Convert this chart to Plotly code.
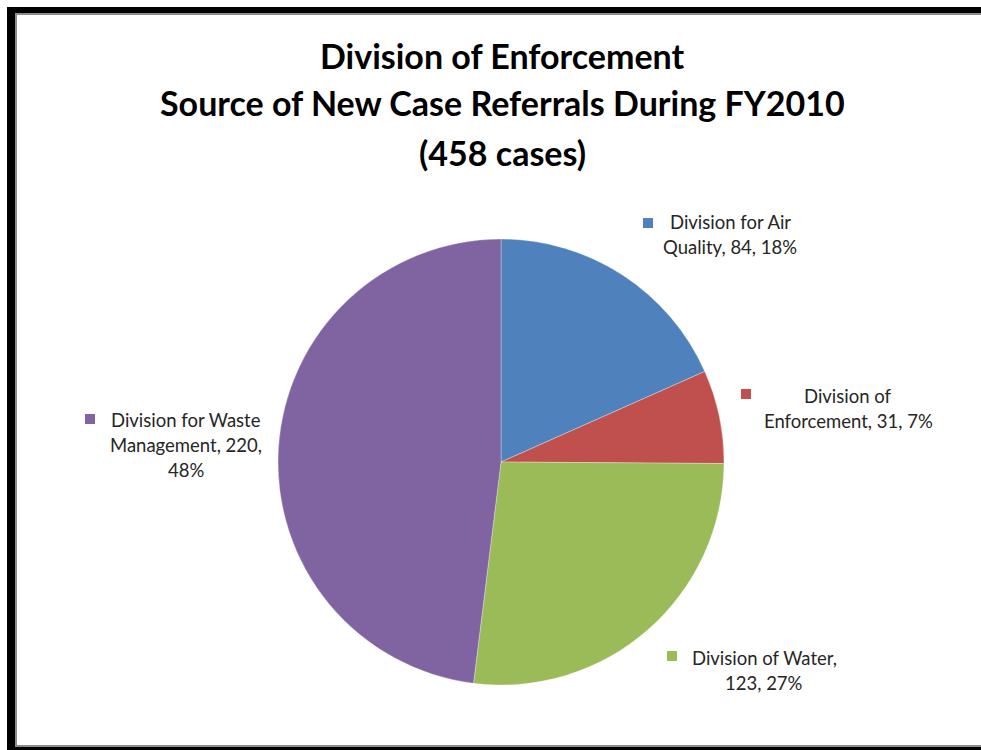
import textwrap
import plotly.graph_objects as go

# Referral sources for new enforcement cases, FY2010
sources = [
    "Division for Air Quality",
    "Division of Enforcement",
    "Division of Water",
    "Division for Waste Management",
]
cases = [84, 31, 123, 220]
colors = ["#4F81BD", "#C0504D", "#9BBB59", "#8064A2"]

title_lines = [
    "Division of Enforcement",
    "Source of New Case Referrals During FY2010",
    f"({sum(cases)} cases)",
]

W, H = 981, 750
FONT = "Lato, Carlito, Calibri, sans-serif"
TEXT = "#262626"


def px(x):
    return x / W


def py(y):
    return 1 - y / H


# pie centre and radius in pixels
cx, cy, r = 501, 462, 223

fig = go.Figure(
    go.Pie(
        labels=sources,
        values=cases,
        marker=dict(colors=colors, line=dict(color="rgba(255,255,255,0.5)", width=0.6)),
        sort=False,
        direction="clockwise",
        rotation=0,
        textinfo="none",
        hoverinfo="label+value+percent",
        showlegend=False,
        domain=dict(x=[px(cx - r), px(cx + r)], y=[py(cy + r), py(cy - r)]),
    )
)

annotations = []
shapes = []

# title, one annotation per line
for text, y in zip(title_lines, [55, 103, 152]):
    annotations.append(dict(
        text=f"<b>{text}</b>", x=px(502), y=py(y), xref="paper", yref="paper",
        xanchor="center", yanchor="middle", showarrow=False,
        font=dict(family=FONT, size=34, color="#000000"),
    ))

# data labels: wrap width, centre x, first line y, legend key centre
label_layout = [
    dict(wrap=17, x=730, y0=222, key=(648, 223)),
    dict(wrap=19, x=848, y0=396, key=(746, 394)),
    dict(wrap=18, x=764, y0=658, key=(672, 656)),
    dict(wrap=18, x=186, y0=420, key=(90, 419)),
]
total = sum(cases)
for name, val, col, lay in zip(sources, cases, colors, label_layout):
    pct = round(100 * val / total)
    lines = textwrap.wrap(f"{name}, {val}, {pct}%", lay["wrap"])
    for i, line in enumerate(lines):
        annotations.append(dict(
            text=line, x=px(lay["x"]), y=py(lay["y0"] + 25 * i),
            xref="paper", yref="paper", xanchor="center", yanchor="middle",
            showarrow=False, font=dict(family=FONT, size=18.5, color=TEXT),
        ))
    kx, ky = lay["key"]
    shapes.append(dict(
        type="rect", xref="paper", yref="paper",
        x0=px(kx - 5), x1=px(kx + 5), y0=py(ky + 5), y1=py(ky - 5),
        fillcolor=col, line=dict(width=0),
    ))

# chart frame: heavy black edge on left, top and bottom with a thin grey inner line
frame = [
    ((7, 7), (15, 750), "#000000"),
    ((7, 7), (981, 13), "#000000"),
    ((7, 747), (981, 750), "#000000"),
    ((15, 13), (17, 746), "#8C8C8C"),
    ((15, 13), (981, 15), "#8C8C8C"),
    ((15, 745), (981, 747), "#8C8C8C"),
]
for (x0, y0), (x1, y1), c in frame:
    shapes.append(dict(
        type="rect", xref="paper", yref="paper",
        x0=px(x0), x1=px(x1), y0=py(y1), y1=py(y0),
        fillcolor=c, line=dict(width=0), layer="above",
    ))

fig.update_layout(
    width=W, height=H,
    margin=dict(l=0, r=0, t=0, b=0),
    paper_bgcolor="#FFFFFF", plot_bgcolor="#FFFFFF",
    annotations=annotations, shapes=shapes,
)

fig.write_html("out.html")
